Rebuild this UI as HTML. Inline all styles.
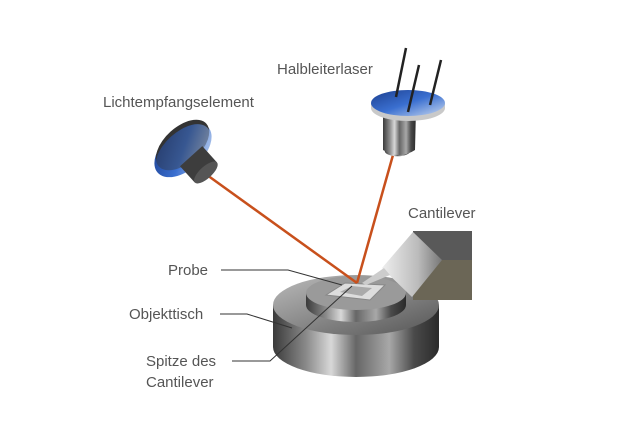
<!DOCTYPE html>
<html><head><meta charset="utf-8"><style>
html,body{margin:0;padding:0;background:#fff;}
svg{display:block;}
text{font-family:"Liberation Sans",sans-serif;font-size:15px;fill:#555;}
</style></head><body>
<svg width="620" height="440" viewBox="0 0 620 440" xmlns="http://www.w3.org/2000/svg">
<defs>
<linearGradient id="metal" x1="0" x2="1" y1="0" y2="0">
<stop offset="0" stop-color="#3a3a3a"/><stop offset="0.2" stop-color="#8a8a8a"/><stop offset="0.35" stop-color="#d8d8d8"/><stop offset="0.5" stop-color="#666"/><stop offset="0.7" stop-color="#a8a8a8"/><stop offset="0.85" stop-color="#4a4a4a"/><stop offset="1" stop-color="#2a2a2a"/>
</linearGradient>
<linearGradient id="metalTop" x1="0" x2="1" y1="0" y2="1">
<stop offset="0" stop-color="#bbb"/><stop offset="0.5" stop-color="#888"/><stop offset="1" stop-color="#555"/>
</linearGradient>
<linearGradient id="blue" x1="0" x2="1" y1="0" y2="1">
<stop offset="0" stop-color="#1c3f8f"/><stop offset="0.5" stop-color="#3a6fd0"/><stop offset="1" stop-color="#c8d8f0"/>
</linearGradient>
<linearGradient id="face" x1="0" x2="1" y1="0" y2="0">
<stop offset="0" stop-color="#eee"/><stop offset="0.6" stop-color="#bbb"/><stop offset="1" stop-color="#777"/>
</linearGradient>
</defs>

<!-- stage -->
<path d="M273,305 L273,347 A83,30 0 0 0 439,347 L439,305 Z" fill="url(#metal)"/>
<ellipse cx="356" cy="305" rx="83" ry="30" fill="url(#metalTop)"/>
<path d="M306,293 L306,305 A50,17 0 0 0 406,305 L406,293 Z" fill="url(#metal)"/>
<ellipse cx="356" cy="293" rx="50" ry="17" fill="#9a9a9a"/>
<polygon points="326,295 345,283 385,285 370,300" fill="#ddd" stroke="#888" stroke-width="1"/>
<polygon points="340,292 352,286 372,288 362,296" fill="#aaa"/>

<!-- cantilever holder -->
<rect x="413" y="231" width="59" height="30" fill="#595959"/>
<rect x="413" y="260" width="59" height="40" fill="#6b6656"/>
<polygon points="382,268 413,232 442,260 412,297" fill="url(#face)"/>
<polygon points="362,283 384,268 390,275 366,285" fill="#ccc"/>

<!-- laser beams -->
<line x1="393" y1="155" x2="357" y2="283" stroke="#c8501c" stroke-width="2.5"/>
<line x1="357" y1="283" x2="207" y2="175" stroke="#c8501c" stroke-width="2.5"/>

<!-- detector -->
<g transform="rotate(-42 183 150)">
<ellipse cx="183" cy="150" rx="34" ry="20" fill="url(#blue)"/>
<ellipse cx="186" cy="146" rx="32" ry="18" fill="#333"/>
<ellipse cx="183" cy="150" rx="33" ry="18" fill="url(#blue)" opacity="0.6"/>
</g>
<g transform="rotate(-42 200 163)">
<rect x="183" y="152" width="30" height="22" fill="#3d3d3d"/>
<ellipse cx="198" cy="174" rx="15" ry="6" fill="#555"/>
</g>

<!-- laser -->
<path d="M385,112 L385,150 A12,5 0 0 0 410,152 L410,112 Z" fill="url(#metal)"/>
<path d="M383,108 L383,150 Q400,160 415,150 L416,108 Z" fill="url(#metal)"/>
<path d="M371,103 L371,108 A37,13 0 0 0 445,108 L445,103 Z" fill="#c9c9c9"/>
<ellipse cx="408" cy="103" rx="37" ry="13" fill="url(#blue)"/>
<line x1="406" y1="48" x2="396" y2="97" stroke="#222" stroke-width="2.5"/>
<line x1="419" y1="65" x2="408" y2="112" stroke="#222" stroke-width="2.5"/>
<line x1="441" y1="60" x2="430" y2="105" stroke="#222" stroke-width="2.5"/>

<!-- leader lines -->
<polyline points="221,270 288,270 342,285" fill="none" stroke="#333" stroke-width="1"/>
<polyline points="220,314 247,314 292,328" fill="none" stroke="#333" stroke-width="1"/>
<polyline points="232,361 270,361 352,286" fill="none" stroke="#333" stroke-width="1"/>

<!-- labels -->
<text x="277" y="74">Halbleiterlaser</text>
<text x="103" y="107">Lichtempfangselement</text>
<text x="408" y="218">Cantilever</text>
<text x="168" y="275">Probe</text>
<text x="129" y="319">Objekttisch</text>
<text x="146" y="366">Spitze des</text>
<text x="146" y="387">Cantilever</text>
</svg>
</body></html>
